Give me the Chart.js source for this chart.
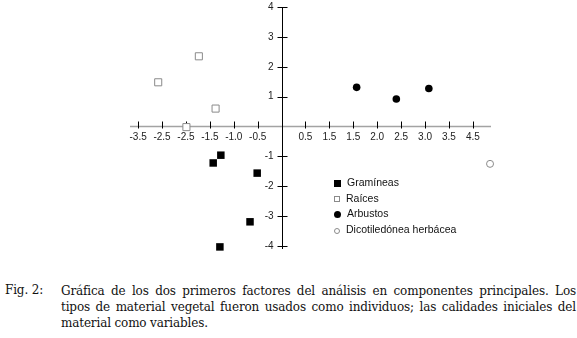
<!DOCTYPE html>
<html>
<head>
<meta charset="utf-8">
<script src="https://cdn.jsdelivr.net/npm/chart.js@4.4.1/dist/chart.umd.min.js"></script>
<style>
  body { margin: 0; background: #fff; }
  #wrap { position: relative; width: 577px; height: 338px; overflow: hidden; }
  #chart { position: absolute; left: 0; top: 0; }
  #legend { position: absolute; left: 334px; top: 175px; font: 10.5px "Liberation Sans", Arial, sans-serif; color: #111; }
  #legend div { height: 15.7px; line-height: 15.7px; white-space: nowrap; }
  #legend i { display: inline-block; width: 7px; height: 7px; box-sizing: border-box; margin-right: 6px; vertical-align: -0.5px; }
  .caption { position: absolute; font: 12px "DejaVu Serif", "Liberation Serif", serif; letter-spacing: -0.15px; color: #111; }
  .line { height: 16px; line-height: 16px; text-align: justify; text-align-last: justify; white-space: nowrap; }
  .line.last { text-align-last: left; }
</style>
</head>
<body>
<div id="wrap">
  <canvas id="chart" width="577" height="262"></canvas>
  <div id="legend"></div>
  <div class="caption" style="left:5px; top:283px;">Fig. 2:</div>
  <div class="caption" style="left:61px; top:283px; width:515px;">
    <div class="line">Gráfica de los dos primeros factores del análisis en componentes principales. Los</div>
    <div class="line">tipos de material vegetal fueron usados como individuos; las calidades iniciales del</div>
    <div class="line last">material como variables.</div>
  </div>
</div>
<script>
document.addEventListener('DOMContentLoaded', () => {
    // series
    const seriesNames = ['Gramíneas', 'Raíces', 'Arbustos', 'Dicotiledónea herbácea'];

    const gramineasX = [-1.27, -1.43, -0.51, -0.66, -1.29];
    const gramineasY = [-0.96, -1.22, -1.56, -3.19, -4.03];

    const raicesX = [-2.58, -1.73, -1.38, -1.99];
    const raicesY = [1.48, 2.35, 0.60, -0.02];

    const arbustosX = [1.57, 2.40, 3.08];
    const arbustosY = [1.31, 0.92, 1.27];

    const dicotX = [4.36];
    const dicotY = [-1.25];

    // tick labels exactly as printed in the figure
    const xTickValues = [-3, -2.5, -2, -1.5, -1, -0.5, 0.5, 1, 1.5, 2, 2.5, 3, 3.5, 4];
    const xTickLabels = ['-3.5', '-2.5', '-2.5', '-1.5', '-1.0', '-0.5', '0.5', '1.5', '1.5', '2.0', '2.5', '3.0', '3.5', '4.5'];
    const yTickValues = [4, 3, 2, 1, -1, -2, -3, -4];
    const yTickLabels = ['4', '3', '2', '1', '-1', '-2', '-3', '-4'];

    const toPoints = (xs, ys) => xs.map((x, i) => ({ x: x, y: ys[i] }));

    const tickFont = { family: '"Liberation Sans", Arial, sans-serif', size: 10 };

    // axes cross at the origin, ticks cross the axis lines
    const crossAxes = {
        id: 'crossAxes',
        beforeDraw(chart) {
            // centred y axis puts its labels on the line: move them left of the ticks
            chart.scales.y.getLabelItems().forEach(item => {
                if (!item._moved) {
                    item.options.translation[0] -= 8;
                    item._moved = true;
                }
            });
        },
        beforeDatasetsDraw(chart) {
            const { ctx, scales: { x, y } } = chart;
            const x0 = Math.round(x.getPixelForValue(0)) + 0.5;
            const y0 = y.getPixelForValue(0);
            ctx.save();
            ctx.strokeStyle = '#a3a3a3';
            ctx.lineWidth = 1.6;
            ctx.beginPath();
            ctx.moveTo(x.left, y0);
            ctx.lineTo(x.right, y0);
            ctx.stroke();

            ctx.strokeStyle = '#000';
            ctx.lineWidth = 1;
            ctx.beginPath();
            x.ticks.forEach(t => {
                const px = Math.round(x.getPixelForValue(t.value)) + 0.5;
                ctx.moveTo(px, y0 - 5);
                ctx.lineTo(px, y0 + 2);
            });
            ctx.moveTo(x0, y.top);
            ctx.lineTo(x0, y.bottom);
            y.ticks.forEach(t => {
                const py = Math.round(y.getPixelForValue(t.value)) + 0.5;
                ctx.moveTo(x0 - 5, py);
                ctx.lineTo(x0 + 5, py);
            });
            ctx.stroke();
            ctx.restore();
        }
    };

    new Chart(document.getElementById('chart'), {
        type: 'scatter',
        data: {
            datasets: [
                { label: seriesNames[0], data: toPoints(gramineasX, gramineasY), pointStyle: 'rect', pointRadius: 5.3,
                  backgroundColor: '#000', borderColor: '#000', borderWidth: 0 },
                { label: seriesNames[1], data: toPoints(raicesX, raicesY), pointStyle: 'rect', pointRadius: 5,
                  backgroundColor: '#fff', borderColor: '#8a8a8a', borderWidth: 1 },
                { label: seriesNames[2], data: toPoints(arbustosX, arbustosY), pointStyle: 'circle', pointRadius: 3.8,
                  backgroundColor: '#000', borderColor: '#000', borderWidth: 0 },
                { label: seriesNames[3], data: toPoints(dicotX, dicotY), pointStyle: 'circle', pointRadius: 3.5,
                  backgroundColor: '#fff', borderColor: '#8a8a8a', borderWidth: 1 }
            ]
        },
        options: {
            responsive: false,
            animation: false,
            clip: false,
            layout: { padding: { left: 130, right: 86, top: 7, bottom: 13 } },
            plugins: { legend: { display: false }, tooltip: { enabled: false } },
            scales: {
                x: {
                    type: 'linear', min: -3.17, max: 4.38,
                    position: { y: 0 },
                    grid: { display: false }, border: { display: false },
                    afterBuildTicks: s => { s.ticks = xTickValues.map(v => ({ value: v })); },
                    ticks: { callback: (v, i) => xTickLabels[i], autoSkip: false, maxRotation: 0,
                             font: tickFont, color: '#222', padding: -3 }
                },
                y: {
                    type: 'linear', min: -4.1, max: 4.0,
                    position: { x: 0 },
                    grid: { display: false }, border: { display: false },
                    afterBuildTicks: s => { s.ticks = yTickValues.map(v => ({ value: v })); },
                    ticks: { callback: (v, i) => yTickLabels[i], autoSkip: false,
                             font: tickFont, color: '#222', padding: 0 }
                }
            }
        },
        plugins: [crossAxes]
    });

    // legend inside the plot
    const markerStyles = [
        'background:#000;',
        'border:1px solid #8a8a8a; width:6px; height:6px;',
        'background:#000; border-radius:50%;',
        'border:1px solid #8a8a8a; border-radius:50%; width:6px; height:6px;'
    ];
    const legend = document.getElementById('legend');
    seriesNames.forEach((name, i) => {
        const row = document.createElement('div');
        row.innerHTML = '<i style="' + markerStyles[i] + '"></i>' + name;
        legend.appendChild(row);
    });
});
</script>
</body>
</html>
